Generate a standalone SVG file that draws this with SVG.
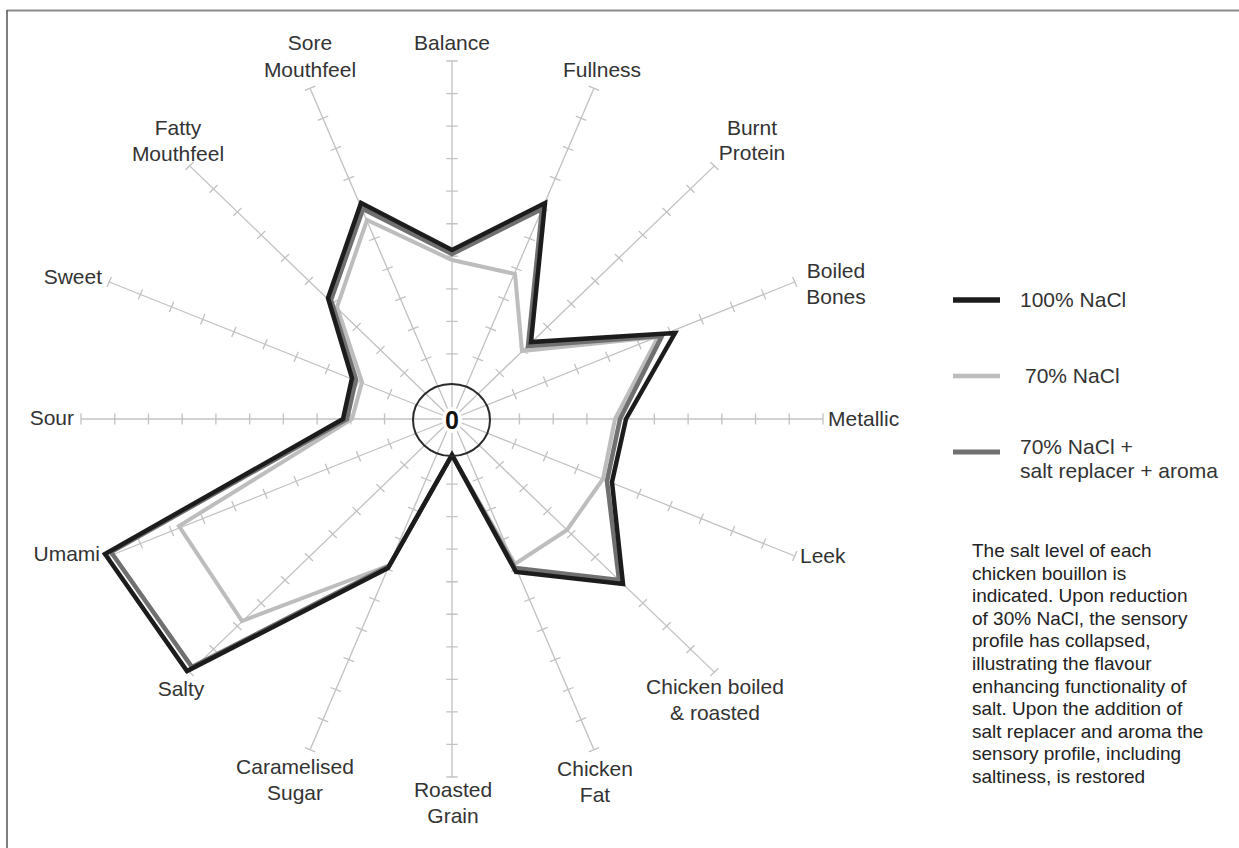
<svg xmlns="http://www.w3.org/2000/svg" xmlns:xlink="http://www.w3.org/1999/xlink" width="1239" height="848" viewBox="0 0 1239 848">
<style>
.lbl{font-family:"Liberation Sans",Arial,Helvetica,sans-serif;font-size:21px;fill:#333}
.mid{text-anchor:middle}
.end{text-anchor:end}
.para{font-family:"Liberation Sans",Arial,Helvetica,sans-serif;font-size:19px;fill:#222}
.ser{fill:none;stroke-linejoin:miter;stroke-miterlimit:6}
.s100{stroke:#1c1c1c;stroke-width:4.5}
.s70{stroke:#bdbdbd;stroke-width:4}
.s70r{stroke:#707070;stroke-width:4.5}
</style>
<defs>
<g id="axis" stroke="#c2c2c2" stroke-width="1.3" fill="none">
<line x1="0" y1="0" x2="0" y2="-358"/>
<path d="M-5.5,-65.09h11M-5.5,-97.64h11M-5.5,-130.18h11M-5.5,-162.73h11M-5.5,-195.27h11M-5.5,-227.82h11M-5.5,-260.36h11M-5.5,-292.91h11M-5.5,-325.45h11M-5.5,-358h11"/>
</g>
</defs>
<rect width="1239" height="848" fill="#fff"/>
<g id="frame" fill="none">
<line x1="7" y1="10.5" x2="1239" y2="10.5" stroke="#8a8a8a" stroke-width="2"/>
<line x1="7" y1="10" x2="7" y2="848" stroke="#555" stroke-width="1.5"/>
</g>
<g id="axes">
<use xlink:href="#axis" transform="translate(452,419) scale(1.0363,1) rotate(0)"/>
<use xlink:href="#axis" transform="translate(452,419) scale(1.0363,1) rotate(22.5)"/>
<use xlink:href="#axis" transform="translate(452,419) scale(1.0363,1) rotate(45)"/>
<use xlink:href="#axis" transform="translate(452,419) scale(1.0363,1) rotate(67.5)"/>
<use xlink:href="#axis" transform="translate(452,419) scale(1.0363,1) rotate(90)"/>
<use xlink:href="#axis" transform="translate(452,419) scale(1.0363,1) rotate(112.5)"/>
<use xlink:href="#axis" transform="translate(452,419) scale(1.0363,1) rotate(135)"/>
<use xlink:href="#axis" transform="translate(452,419) scale(1.0363,1) rotate(157.5)"/>
<use xlink:href="#axis" transform="translate(452,419) scale(1.0363,1) rotate(180)"/>
<use xlink:href="#axis" transform="translate(452,419) scale(1.0363,1) rotate(202.5)"/>
<use xlink:href="#axis" transform="translate(452,419) scale(1.0363,1) rotate(225)"/>
<use xlink:href="#axis" transform="translate(452,419) scale(1.0363,1) rotate(247.5)"/>
<use xlink:href="#axis" transform="translate(452,419) scale(1.0363,1) rotate(270)"/>
<use xlink:href="#axis" transform="translate(452,419) scale(1.0363,1) rotate(292.5)"/>
<use xlink:href="#axis" transform="translate(452,419) scale(1.0363,1) rotate(315)"/>
<use xlink:href="#axis" transform="translate(452,419) scale(1.0363,1) rotate(337.5)"/>
</g>
<g id="labels" class="lbl">
<g id="lbl-balance"><text class="mid" x="452" y="50">Balance</text></g>
<g id="lbl-fullness"><text class="mid" x="602" y="77">Fullness</text></g>
<g id="lbl-burnt"><text class="mid" x="752" y="135">Burnt</text><text class="mid" x="752" y="160">Protein</text></g>
<g id="lbl-bones"><text class="mid" x="836" y="278">Boiled</text><text class="mid" x="836" y="304">Bones</text></g>
<g id="lbl-metallic"><text x="828" y="426">Metallic</text></g>
<g id="lbl-leek"><text x="800" y="563">Leek</text></g>
<g id="lbl-chicken-boiled"><text class="mid" x="715" y="694">Chicken boiled</text><text class="mid" x="715" y="720">&amp; roasted</text></g>
<g id="lbl-chicken-fat"><text class="mid" x="595" y="776">Chicken</text><text class="mid" x="595" y="802">Fat</text></g>
<g id="lbl-grain"><text class="mid" x="453" y="797">Roasted</text><text class="mid" x="453" y="823">Grain</text></g>
<g id="lbl-sugar"><text class="mid" x="295" y="774">Caramelised</text><text class="mid" x="295" y="800">Sugar</text></g>
<g id="lbl-salty"><text class="mid" x="181" y="696">Salty</text></g>
<g id="lbl-umami"><text class="end" x="100" y="561">Umami</text></g>
<g id="lbl-sour"><text class="end" x="74" y="425">Sour</text></g>
<g id="lbl-sweet"><text class="end" x="102" y="284">Sweet</text></g>
<g id="lbl-fatty"><text class="mid" x="178" y="135">Fatty</text><text class="mid" x="178" y="161">Mouthfeel</text></g>
<g id="lbl-sore"><text class="mid" x="310" y="50">Sore</text><text class="mid" x="310" y="77">Mouthfeel</text></g>
</g>
<g id="series" class="ser">
<polygon class="s70" points="452,260 515,274 522,351 658,337 615,419 603,479 567,530 515,564 452,455 390,565 242,621 179,526 352,419 362,382 337,307 367,220"/>
<polygon class="s70r" points="452,254 542,209 528,346 662,336 620,419 607,481 619,580 515,568 452,455 389,566 192,667 111,552 347,419 356,379 331,300 363,209"/>
<polygon class="s100" points="452,250 545,203 531,342 675,333 626,419 612,482 623,584 516,572 452,455 388,568 187,671 105,554 343,419 352,378 328,298 361,203"/>
</g>
<g id="center">
<ellipse cx="452" cy="420" rx="10" ry="13" fill="#fff"/>
<ellipse cx="451.5" cy="420" rx="38.5" ry="36" fill="none" stroke="#2a2a2a" stroke-width="2"/>
<text x="452" y="429" text-anchor="middle" font-family="Liberation Sans, Arial, sans-serif" font-weight="bold" font-size="25" fill="#111">0</text>
</g>
<g id="legend">
<line x1="953" y1="300" x2="1000" y2="300" stroke="#1c1c1c" stroke-width="5.5"/>
<text class="lbl" x="1020" y="307">100% NaCl</text>
<line x1="953" y1="376" x2="1000" y2="376" stroke="#bdbdbd" stroke-width="4.5"/>
<text class="lbl" x="1025" y="383">70% NaCl</text>
<line x1="953" y1="452" x2="1000" y2="452" stroke="#707070" stroke-width="5"/>
<text class="lbl" x="1020" y="454">70% NaCl +</text>
<text class="lbl" x="1020" y="478">salt replacer + aroma</text>
</g>
<g id="caption">
<text class="para" x="972" y="557">The salt level of each<tspan x="972" dy="22.6">chicken bouillon is</tspan><tspan x="972" dy="22.6">indicated. Upon reduction</tspan><tspan x="972" dy="22.6">of 30% NaCl, the sensory</tspan><tspan x="972" dy="22.6">profile has collapsed,</tspan><tspan x="972" dy="22.6">illustrating the flavour</tspan><tspan x="972" dy="22.6">enhancing functionality of</tspan><tspan x="972" dy="22.6">salt. Upon the addition of</tspan><tspan x="972" dy="22.6">salt replacer and aroma the</tspan><tspan x="972" dy="22.6">sensory profile, including</tspan><tspan x="972" dy="22.6">saltiness, is restored</tspan></text>
</g>
</svg>
